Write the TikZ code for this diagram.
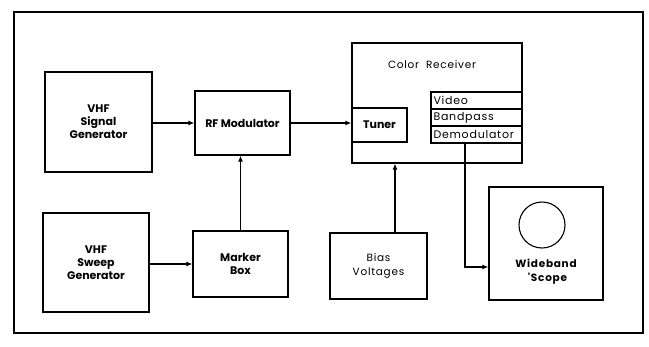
\documentclass[tikz,border=0pt]{standalone}
\usepackage{fontspec}
\setmainfont{Poppins}
\newfontfamily\widefont[LetterSpace=7]{Poppins}
\usepackage{tikz}
\usetikzlibrary{arrows.meta,positioning,calc}

\begin{document}
\begin{tikzpicture}[
  x=1pt,y=-1pt,
  blk/.style={draw,line width=1.3pt,align=center,inner sep=0pt,
              font=\fontsize{11}{13}\selectfont\bfseries},
  cell/.style={draw,line width=1.1pt,minimum width=91pt,minimum height=17pt,
               inner sep=0pt,font=\widefont\fontsize{11}{12}\selectfont},
  arr/.style={-{Latex[length=6pt,width=5pt]},line width=1.1pt},>=Latex
]
\useasboundingbox (0,0) rectangle (649,346);
\draw[line width=2.5pt] (14,12) rectangle (643,333);

% sources on the left
\node[blk,minimum width=107pt,minimum height=100pt] (sig)    at (98.5,122) {VHF\\Signal\\Generator};
\node[blk,minimum width=106pt,minimum height=99pt]  (sweep)  at (96,262.5) {VHF\\Sweep\\Generator};
\node[blk,minimum width=95pt,minimum height=64pt]   (rfmod)  at (242.5,123) {RF Modulator};
\node[blk,minimum width=95pt,minimum height=66pt]   (marker) at (240.5,264) {Marker\\Box};

% receiver
\node[blk,minimum width=170pt,minimum height=120pt] (rcvr) at (437,103) {};
\node[font=\widefont\fontsize{10.5}{12}\selectfont] (rcvrtitle) at (432,65) {Color\ \ Receiver};
\node[blk,minimum width=55pt,minimum height=34pt]   (tuner) at (379.5,125) {Tuner};
\node[cell,text width=86pt] (video)    at (476.5,100.5) {Video};
\node[cell,text width=86pt] (bandpass) at (476.5,117.5) {Bandpass};
\node[cell,text width=86pt] (demod)    at (476.5,134.5) {Demodulator};

% bottom right
\node[blk,minimum width=97pt,minimum height=66pt,font=\widefont\fontsize{10.5}{14}\selectfont]
  (bias) at (378.5,266) {Bias\\Voltages};
\node[blk,minimum width=114pt,minimum height=113pt] (scope) at (546,243.5) {};
\node[draw,circle,line width=1.1pt,minimum size=46pt] (tube) at (542,225) {};
\node[font=\widefont\fontsize{10.5}{14}\selectfont\bfseries,align=center] (scopetxt) at (546,272) {Wideband\\\ 'Scope};

\coordinate (dmout) at (465,143);

\draw[arr] (sig.east |- rfmod) -- (rfmod.west);
\draw[arr] (sweep.east |- marker) -- (marker.west);
\draw[arr] (marker.north) -- (marker.north |- rfmod.south);
\draw[arr] (rfmod.east) -- (rfmod.east -| tuner.west);
\draw[arr] ([xshift=16.5pt]bias.north) -- ([xshift=16.5pt]bias.north |- rcvr.south);
\draw[arr] (dmout) |- ([yshift=-23.5pt]scope.west);
\end{tikzpicture}
\end{document}
